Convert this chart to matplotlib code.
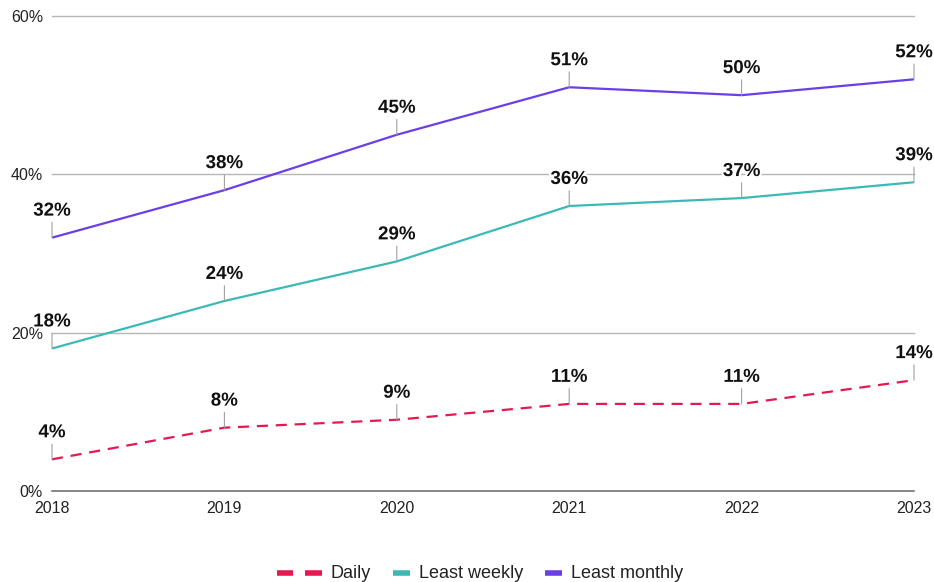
import matplotlib
matplotlib.use("Agg")
import matplotlib.pyplot as plt
import matplotlib.patheffects as pe
from matplotlib.lines import Line2D

plt.rcParams['font.family'] = ['Liberation Sans', 'DejaVu Sans']

years = ["2018", "2019", "2020", "2021", "2022", "2023"]
daily = [4, 8, 9, 11, 11, 14]
least_weekly = [18, 24, 29, 36, 37, 39]
least_monthly = [32, 38, 45, 51, 50, 52]
y_ticks = [0, 20, 40, 60]
y_tick_labels = ["0%", "20%", "40%", "60%"]
series_names = ["Daily", "Least weekly", "Least monthly"]

W, H = 934, 582
fig = plt.figure(figsize=(W / 100, H / 100), dpi=100)
ax = fig.add_axes([52 / W, (H - 491) / H, (914 - 52) / W, (491 - 16) / H])

x = list(range(len(years)))
colors = ["#e5194f", "#3bbab5", "#6a3ee8"]
styles = [(0, (5, 3.5)), "-", "-"]
data = [daily, least_weekly, least_monthly]

for yv in y_ticks:
    ax.axhline(yv, color="#666666" if yv == 0 else "#b7b7b7", lw=1.1 if yv == 0 else 1.0,
               zorder=1, clip_on=False)

for name, vals, color, ls in zip(series_names, data, colors, styles):
    ax.plot(x, vals, color=color, lw=1.6, linestyle=ls, zorder=3,
            solid_capstyle='butt', dash_capstyle='butt', label=name)
    for xi, v in zip(x, vals):
        ax.annotate(f"{v}%", xy=(xi, v), xytext=(0, 13), textcoords="offset points",
                    ha="center", va="bottom", fontsize=13.5, fontweight="bold",
                    color="#111111", zorder=5,
                    path_effects=[pe.withStroke(linewidth=3, foreground="white")],
                    arrowprops=dict(arrowstyle="-", color="#a0a0a0", lw=0.8,
                                    shrinkA=0, shrinkB=0))

ax.set_xlim(0, len(years) - 1)
ax.set_ylim(0, 60)
ax.set_xticks(x)
ax.set_xticklabels(years, fontsize=11.5, color="#222222")
ax.set_yticks(y_ticks)
ax.set_yticklabels(y_tick_labels, fontsize=11.5, color="#222222")
ax.tick_params(axis="both", length=0)
ax.tick_params(axis="y", pad=6.5)
ax.tick_params(axis="x", pad=7)
for s in ax.spines.values():
    s.set_visible(False)
ax.set_facecolor("white")

# manual legend (pixel layout)
ly = 1 - 573 / H
def fx(px):
    return px / W
for x0, x1 in [(277, 293), (305, 322)]:
    fig.add_artist(Line2D([fx(x0), fx(x1)], [ly, ly], color=colors[0], lw=4,
                          solid_capstyle='butt', transform=fig.transFigure))
fig.text(fx(331), ly, series_names[0], fontsize=13, va="center", ha="left", color="#222222")
fig.add_artist(Line2D([fx(393), fx(410)], [ly, ly], color=colors[1], lw=4,
                      solid_capstyle='butt', transform=fig.transFigure))
fig.text(fx(419), ly, series_names[1], fontsize=13, va="center", ha="left", color="#222222")
fig.add_artist(Line2D([fx(545), fx(562)], [ly, ly], color=colors[2], lw=4,
                      solid_capstyle='butt', transform=fig.transFigure))
fig.text(fx(571), ly, series_names[2], fontsize=13, va="center", ha="left", color="#222222")

fig.savefig("out.png", dpi=100, facecolor="white")
